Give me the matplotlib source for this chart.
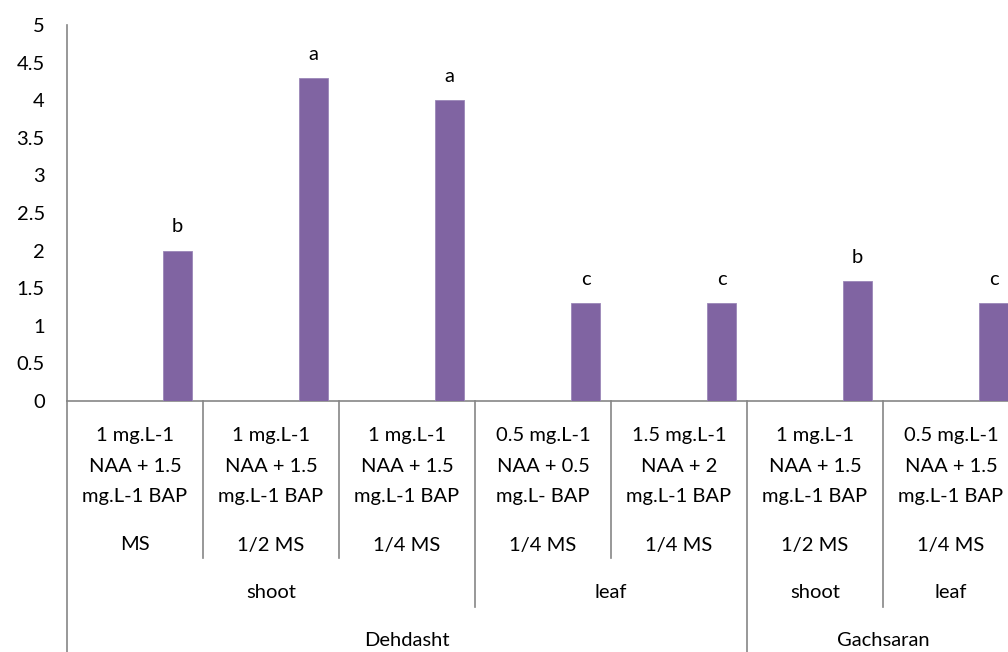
import matplotlib
matplotlib.use("Agg")
import matplotlib.pyplot as plt
from matplotlib.transforms import blended_transform_factory
from matplotlib.lines import Line2D

plt.rcParams['font.family'] = ['Lato', 'DejaVu Sans']

treatments = ["1 mg.L-1\nNAA + 1.5\nmg.L-1 BAP", "1 mg.L-1\nNAA + 1.5\nmg.L-1 BAP",
              "1 mg.L-1\nNAA + 1.5\nmg.L-1 BAP", "0.5 mg.L-1\nNAA + 0.5\nmg.L- BAP",
              "1.5 mg.L-1\nNAA + 2\nmg.L-1 BAP", "1 mg.L-1\nNAA + 1.5\nmg.L-1 BAP",
              "0.5 mg.L-1\nNAA + 1.5\nmg.L-1 BAP"]
media = ["MS", "1/2 MS", "1/4 MS", "1/4 MS", "1/4 MS", "1/2 MS", "1/4 MS"]
tissues = ["shoot", "shoot", "shoot", "leaf", "leaf", "shoot", "leaf"]
locations = ["Dehdasht"] * 5 + ["Gachsaran"] * 2
values = [2.0, 4.3, 4.0, 1.3, 1.3, 1.6, 1.3]
letters = ["b", "a", "a", "c", "c", "b", "c"]
yticks = [0, 0.5, 1, 1.5, 2, 2.5, 3, 3.5, 4, 4.5, 5]

FS = 14.5
W, H = 1008, 652
fig = plt.figure(figsize=(W / 100, H / 100), dpi=100)
x0, x1, ytop, ybot = 67, 1019, 25, 401
ax = fig.add_axes([x0 / W, 1 - ybot / H, (x1 - x0) / W, (ybot - ytop) / H])

n = len(values)
xs = [i + 0.3125 for i in range(n)]
purple = "#8064A2"
gray = "#868686"
ax.bar(xs, values, width=0.213, color=purple, edgecolor="#9a86b8", linewidth=0.6, zorder=3)
for x, v, l in zip(xs, values, letters):
    ax.annotate(l, (x, v), xytext=(0, 17), textcoords="offset points",
                ha="center", va="center", fontsize=FS, color="black")

ax.set_xlim(-0.5, n - 0.5)
ax.set_ylim(0, 5)
ax.set_yticks(yticks)
ax.set_yticklabels([f"{t:g}" for t in yticks], fontsize=FS)
ax.tick_params(axis="y", length=0, pad=16)
ax.set_xticks([])
for s in ["top", "right"]:
    ax.spines[s].set_visible(False)
ax.spines["left"].set_color(gray)
ax.spines["bottom"].set_color(gray)
ax.spines["left"].set_linewidth(1.2)
ax.spines["bottom"].set_linewidth(1.2)

tr = blended_transform_factory(ax.transData, fig.transFigure)
def fy(p):
    return 1 - p / H

def vline(x, yb):
    fig.add_artist(Line2D([x, x], [fy(ybot), fy(yb)], transform=tr, color=gray,
                          linewidth=1.2, clip_on=False))

# left axis extension
vline(-0.5, H + 2)

# dividers
for i in range(1, n):
    if locations[i] != locations[i - 1]:
        vline(i - 0.5, H + 2)
    elif tissues[i] != tissues[i - 1]:
        vline(i - 0.5, 607)
    else:
        vline(i - 0.5, 558)

for i in range(n):
    fig.text(i, fy(466), treatments[i], transform=tr, ha="center", va="center",
             fontsize=FS, linespacing=1.95)
    fig.text(i, fy(545), media[i], transform=tr, ha="center", va="center", fontsize=FS)

def groups(lst):
    out = []
    start = 0
    for i in range(1, len(lst) + 1):
        if i == len(lst) or lst[i] != lst[start] or (lst is tissues and locations[i] != locations[start]):
            out.append((lst[start], start, i - 1))
            start = i
    return out

for name, a, b in groups(tissues):
    fig.text((a + b) / 2, fy(592), name, transform=tr, ha="center", va="center", fontsize=FS)
for name, a, b in groups(locations):
    fig.text((a + b) / 2, fy(640), name, transform=tr, ha="center", va="center", fontsize=FS)

fig.savefig("out.png", dpi=100)
